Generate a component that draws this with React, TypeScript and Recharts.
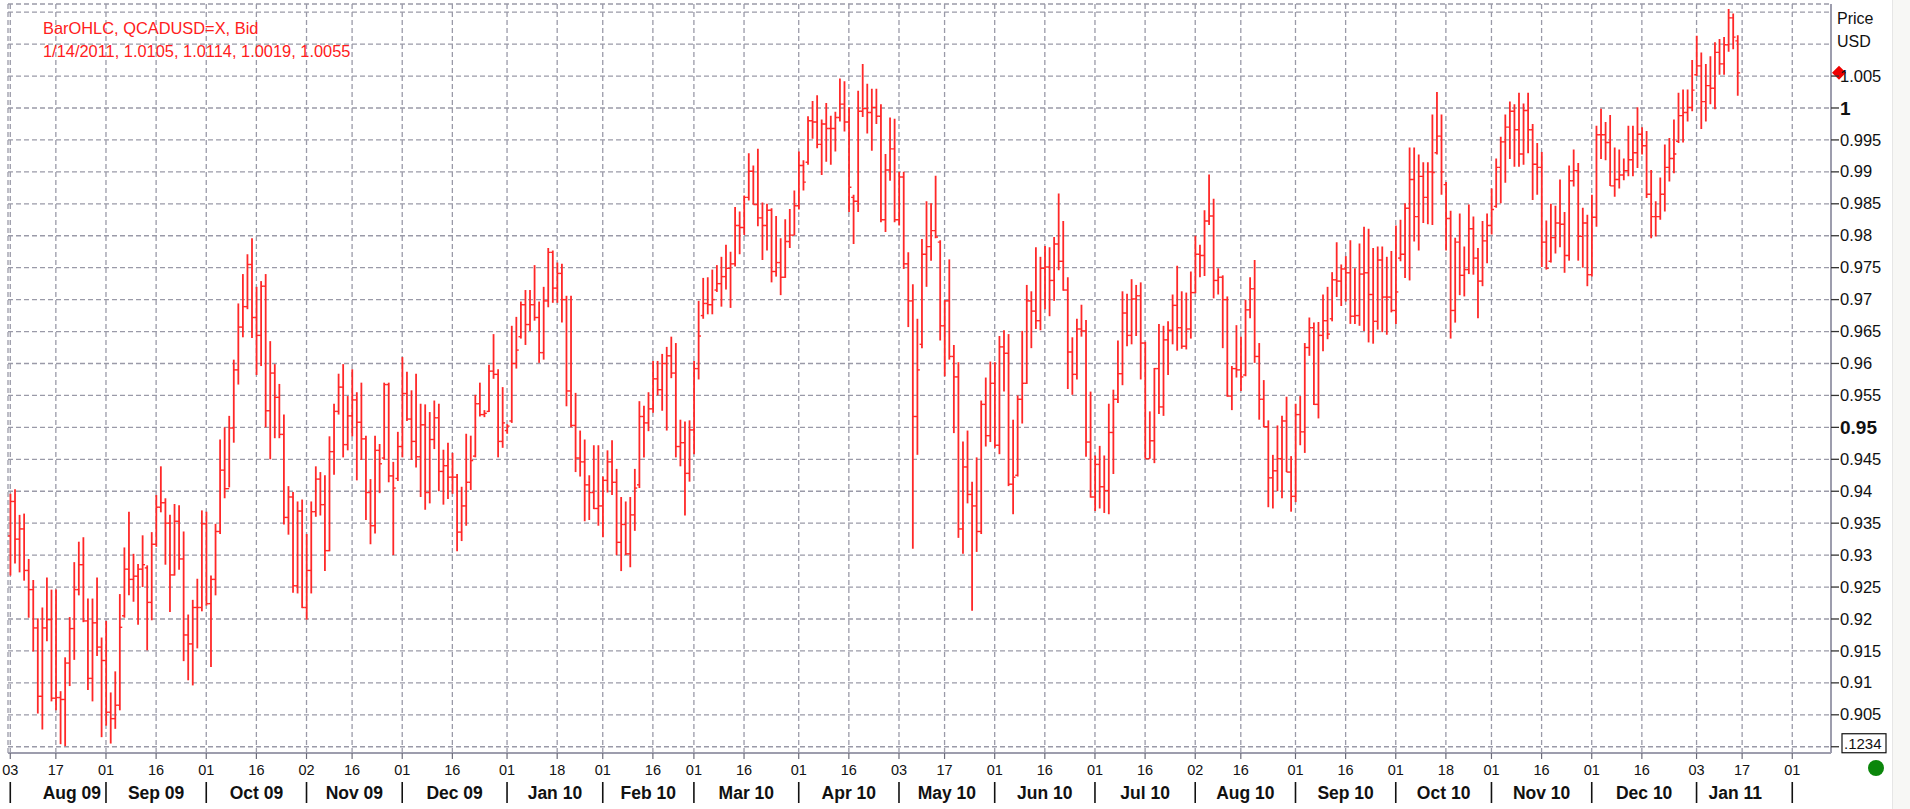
import React from "react";
import { ComposedChart, Bar, XAxis, YAxis, CartesianGrid, ReferenceDot } from "recharts";

// Daily bars, prices in 1/10000 USD (QCADUSD=X, Bid), Aug 3 2009 .. Jan 14 2011 (weekdays)
const HIGH = [
  9396, 9403, 9363, 9365, 9294, 9261, 9201, 9218, 9265, 9246,
  9246, 9087, 9140, 9203, 9289, 9321, 9328, 9232, 9232, 9265,
  9171, 9197, 9085, 9118, 9239, 9312, 9368, 9302, 9286, 9331,
  9284, 9336, 9394, 9439, 9389, 9363, 9380, 9378, 9337, 9207,
  9230, 9263, 9370, 9368, 9268, 9349, 9481, 9500, 9518, 9606,
  9694, 9740, 9771, 9796, 9720, 9729, 9740, 9635, 9599, 9568,
  9520, 9408, 9399, 9384, 9387, 9333, 9384, 9439, 9430, 9425,
  9486, 9537, 9584, 9599, 9549, 9591, 9555, 9570, 9487, 9419,
  9487, 9474, 9570, 9570, 9446, 9493, 9610, 9587, 9558, 9584,
  9537, 9536, 9524, 9542, 9537, 9465, 9476, 9460, 9427, 9407,
  9490, 9487, 9551, 9570, 9527, 9598, 9646, 9591, 9563, 9505,
  9659, 9673, 9697, 9715, 9715, 9754, 9697, 9720, 9781, 9777,
  9758, 9756, 9706, 9706, 9554, 9495, 9481, 9425, 9472, 9472,
  9423, 9464, 9480, 9435, 9391, 9384, 9391, 9435, 9541, 9534,
  9555, 9604, 9604, 9615, 9626, 9642, 9632, 9512, 9509, 9511,
  9604, 9698, 9734, 9735, 9747, 9754, 9767, 9786, 9775, 9845,
  9838, 9863, 9929, 9910, 9936, 9852, 9850, 9843, 9831, 9796,
  9826, 9842, 9871, 9932, 9918, 9987, 10011, 10020, 9982, 10008,
  9988, 9994, 10046, 10042, 10001, 9864, 10027, 10069, 10038, 10030,
  10030, 10006, 9928, 9985, 9983, 9900, 9900, 9774, 9724, 9670,
  9795, 9854, 9851, 9894, 9793, 9699, 9763, 9629, 9602, 9478,
  9495, 9415, 9453, 9542, 9578, 9603, 9602, 9643, 9652, 9646,
  9512, 9550, 9651, 9723, 9713, 9782, 9767, 9784, 9782, 9798,
  9866, 9823, 9735, 9641, 9670, 9692, 9668, 9556, 9456, 9471,
  9456, 9537, 9559, 9636, 9713, 9709, 9732, 9723, 9727, 9634,
  9525, 9593, 9662, 9659, 9666, 9708, 9753, 9713, 9711, 9744,
  9800, 9786, 9840, 9896, 9858, 9749, 9738, 9705, 9596, 9660,
  9642, 9700, 9735, 9762, 9632, 9574, 9511, 9457, 9503, 9518,
  9548, 9455, 9537, 9549, 9632, 9672, 9664, 9665, 9708, 9720,
  9743, 9790, 9755, 9768, 9793, 9749, 9788, 9814, 9811, 9781,
  9783, 9783, 9767, 9776, 9816, 9825, 9851, 9938, 9938, 9927,
  9915, 9915, 9990, 10025, 9990, 9884, 9839, 9797, 9835, 9783,
  9849, 9830, 9781, 9823, 9835, 9874, 9921, 9955, 9990, 10010,
  10006, 10024, 10007, 10024, 9975, 9945, 9931, 9824, 9850, 9847,
  9888, 9837, 9910, 9935, 9914, 9844, 9833, 9864, 9972, 9999,
  9978, 9989, 9938, 9935, 9921, 9972, 9972, 10001, 9970, 9964,
  9903, 9854, 9891, 9943, 9953, 9982, 10024, 10029, 10029, 10075,
  10113, 10087, 10069, 10081, 10103, 10108, 10111, 10155, 10148, 10114,
];
const LOW = [
  9268, 9287, 9273, 9260, 9202, 9149, 9052, 9027, 9165, 9071,
  9057, 9004, 9001, 9095, 9136, 9237, 9195, 9089, 9071, 9142,
  9015, 9033, 9005, 9028, 9057, 9202, 9237, 9227, 9191, 9250,
  9151, 9198, 9313, 9367, 9285, 9211, 9268, 9277, 9134, 9104,
  9096, 9154, 9212, 9221, 9125, 9237, 9333, 9389, 9406, 9476,
  9567, 9641, 9685, 9640, 9582, 9596, 9500, 9450, 9483, 9483,
  9348, 9332, 9241, 9240, 9217, 9199, 9240, 9360, 9362, 9275,
  9306, 9426, 9520, 9453, 9464, 9486, 9417, 9449, 9355, 9317,
  9334, 9397, 9449, 9414, 9300, 9416, 9453, 9510, 9449, 9437,
  9391, 9371, 9381, 9466, 9400, 9379, 9388, 9396, 9306, 9322,
  9346, 9402, 9453, 9517, 9516, 9524, 9576, 9453, 9468, 9490,
  9507, 9592, 9639, 9629, 9651, 9667, 9601, 9606, 9688, 9695,
  9695, 9664, 9533, 9500, 9430, 9423, 9353, 9355, 9372, 9346,
  9328, 9398, 9394, 9300, 9275, 9300, 9281, 9338, 9405, 9453,
  9494, 9523, 9550, 9526, 9495, 9577, 9453, 9439, 9362, 9415,
  9458, 9575, 9670, 9677, 9677, 9712, 9689, 9716, 9687, 9752,
  9771, 9801, 9855, 9849, 9815, 9762, 9777, 9727, 9736, 9707,
  9734, 9781, 9801, 9841, 9871, 9911, 9952, 9937, 9895, 9916,
  9911, 9932, 9979, 9963, 9837, 9787, 9837, 9986, 9960, 9933,
  9975, 9821, 9806, 9886, 9821, 9816, 9748, 9657, 9310, 9457,
  9624, 9720, 9761, 9796, 9636, 9580, 9606, 9491, 9327, 9302,
  9381, 9213, 9305, 9333, 9470, 9477, 9468, 9458, 9556, 9408,
  9364, 9423, 9506, 9568, 9624, 9654, 9652, 9685, 9674, 9698,
  9746, 9714, 9560, 9551, 9575, 9642, 9454, 9390, 9369, 9373,
  9366, 9364, 9427, 9538, 9566, 9627, 9630, 9643, 9575, 9451,
  9451, 9444, 9521, 9518, 9582, 9630, 9620, 9623, 9622, 9639,
  9710, 9735, 9737, 9817, 9702, 9708, 9624, 9548, 9527, 9578,
  9557, 9580, 9671, 9601, 9512, 9500, 9375, 9373, 9400, 9389,
  9430, 9368, 9383, 9472, 9460, 9612, 9535, 9514, 9619, 9638,
  9666, 9704, 9690, 9697, 9662, 9662, 9659, 9651, 9633, 9631,
  9653, 9649, 9645, 9680, 9662, 9760, 9734, 9730, 9791, 9777,
  9820, 9818, 9817, 9927, 9864, 9777, 9639, 9664, 9707, 9705,
  9740, 9739, 9671, 9721, 9757, 9802, 9844, 9851, 9883, 9920,
  9908, 9908, 9911, 9929, 9856, 9864, 9751, 9747, 9758, 9772,
  9782, 9742, 9761, 9877, 9761, 9750, 9721, 9736, 9814, 9920,
  9918, 9878, 9861, 9874, 9887, 9893, 9893, 9906, 9927, 9859,
  9796, 9799, 9825, 9838, 9885, 9898, 9945, 9946, 9979, 9995,
  10050, 9967, 9979, 10006, 9998, 10052, 10052, 10088, 10092, 10019,
];
const CLOSE = [
  9384, 9325, 9341, 9276, 9246, 9186, 9079, 9186, 9199, 9076,
  9077, 9074, 9131, 9185, 9246, 9285, 9197, 9107, 9194, 9156,
  9135, 9054, 9044, 9065, 9187, 9278, 9262, 9267, 9278, 9285,
  9226, 9317, 9375, 9382, 9350, 9269, 9353, 9294, 9175, 9161,
  9218, 9218, 9349, 9224, 9262, 9337, 9433, 9404, 9499, 9590,
  9657, 9689, 9755, 9672, 9644, 9721, 9526, 9585, 9547, 9489,
  9359, 9391, 9252, 9369, 9218, 9276, 9368, 9419, 9379, 9307,
  9462, 9525, 9563, 9473, 9518, 9543, 9508, 9482, 9398, 9346,
  9464, 9443, 9567, 9424, 9405, 9470, 9553, 9513, 9478, 9454,
  9504, 9398, 9481, 9515, 9431, 9440, 9422, 9422, 9336, 9377,
  9414, 9448, 9537, 9520, 9522, 9588, 9583, 9478, 9507, 9502,
  9600, 9621, 9692, 9661, 9692, 9672, 9617, 9698, 9774, 9718,
  9741, 9700, 9557, 9503, 9452, 9446, 9410, 9398, 9373, 9377,
  9417, 9446, 9414, 9320, 9348, 9302, 9363, 9405, 9517, 9507,
  9529, 9576, 9559, 9600, 9612, 9585, 9470, 9476, 9428, 9496,
  9592, 9643, 9694, 9692, 9700, 9725, 9736, 9749, 9756, 9816,
  9813, 9860, 9901, 9849, 9828, 9816, 9840, 9744, 9758, 9735,
  9791, 9801, 9847, 9910, 9884, 9980, 9978, 9943, 9975, 9968,
  9968, 9985, 10006, 9978, 9876, 9854, 9995, 9999, 9993, 10001,
  9987, 9825, 9903, 9936, 9825, 9892, 9756, 9698, 9517, 9590,
  9771, 9783, 9808, 9798, 9659, 9698, 9611, 9579, 9341, 9438,
  9395, 9377, 9337, 9536, 9487, 9569, 9472, 9626, 9616, 9411,
  9422, 9544, 9569, 9698, 9682, 9667, 9749, 9751, 9730, 9787,
  9760, 9715, 9618, 9583, 9654, 9651, 9477, 9391, 9442, 9407,
  9401, 9492, 9544, 9584, 9679, 9644, 9701, 9706, 9632, 9451,
  9479, 9592, 9532, 9637, 9652, 9691, 9656, 9627, 9654, 9711,
  9771, 9769, 9823, 9831, 9730, 9735, 9700, 9549, 9592, 9590,
  9579, 9684, 9717, 9611, 9544, 9501, 9421, 9432, 9451, 9510,
  9430, 9392, 9520, 9493, 9625, 9656, 9536, 9644, 9667, 9646,
  9731, 9729, 9748, 9742, 9674, 9675, 9740, 9742, 9708, 9666,
  9762, 9704, 9704, 9683, 9712, 9771, 9843, 9888, 9830, 9893,
  9860, 9900, 9899, 9956, 9900, 9827, 9683, 9790, 9738, 9747,
  9811, 9765, 9729, 9792, 9816, 9841, 9907, 9947, 9970, 9995,
  9966, 9928, 9996, 9966, 9912, 9907, 9790, 9749, 9797, 9820,
  9818, 9769, 9886, 9902, 9799, 9820, 9739, 9829, 9958, 9958,
  9946, 9878, 9888, 9895, 9902, 9919, 9930, 9959, 9941, 9865,
  9830, 9830, 9865, 9907, 9921, 9928, 9988, 9993, 10001, 10028,
  10066, 10010, 10035, 10031, 10087, 10069, 10099, 10141, 10111, 10055,
];
const OPEN = [
  9330, 9384, 9325, 9341, 9276, 9246, 9186, 9079, 9186, 9199,
  9076, 9077, 9074, 9131, 9185, 9246, 9285, 9197, 9107, 9194,
  9156, 9135, 9054, 9044, 9065, 9205, 9278, 9262, 9267, 9278,
  9280, 9226, 9317, 9375, 9382, 9350, 9269, 9353, 9294, 9175,
  9161, 9218, 9218, 9349, 9224, 9262, 9337, 9433, 9404, 9499,
  9590, 9657, 9689, 9755, 9672, 9644, 9721, 9526, 9585, 9547,
  9489, 9359, 9391, 9252, 9369, 9218, 9276, 9368, 9419, 9379,
  9307, 9462, 9525, 9563, 9473, 9518, 9543, 9508, 9482, 9398,
  9346, 9464, 9452, 9567, 9424, 9420, 9470, 9553, 9513, 9478,
  9454, 9504, 9398, 9481, 9515, 9431, 9440, 9422, 9422, 9336,
  9377, 9414, 9455, 9537, 9520, 9525, 9588, 9583, 9478, 9495,
  9510, 9600, 9642, 9692, 9661, 9692, 9672, 9617, 9698, 9774,
  9718, 9741, 9700, 9557, 9503, 9452, 9446, 9410, 9398, 9373,
  9377, 9417, 9446, 9414, 9320, 9348, 9302, 9363, 9410, 9517,
  9507, 9529, 9576, 9559, 9600, 9612, 9585, 9470, 9476, 9428,
  9496, 9592, 9675, 9694, 9692, 9715, 9725, 9736, 9749, 9756,
  9816, 9813, 9860, 9901, 9849, 9828, 9816, 9840, 9744, 9758,
  9735, 9791, 9801, 9847, 9910, 9915, 9980, 9978, 9943, 9975,
  9968, 9968, 9985, 10006, 9978, 9860, 9854, 9995, 9999, 9993,
  10001, 9987, 9825, 9903, 9936, 9825, 9892, 9756, 9698, 9517,
  9630, 9771, 9783, 9808, 9790, 9659, 9698, 9611, 9579, 9341,
  9438, 9395, 9377, 9337, 9536, 9487, 9569, 9472, 9626, 9616,
  9411, 9425, 9544, 9569, 9698, 9682, 9667, 9749, 9751, 9730,
  9787, 9760, 9715, 9618, 9583, 9654, 9651, 9477, 9391, 9442,
  9407, 9401, 9492, 9544, 9584, 9679, 9644, 9701, 9706, 9632,
  9451, 9479, 9592, 9532, 9637, 9652, 9691, 9656, 9627, 9654,
  9711, 9771, 9769, 9823, 9831, 9730, 9735, 9700, 9549, 9592,
  9590, 9582, 9684, 9717, 9611, 9544, 9501, 9421, 9432, 9451,
  9510, 9430, 9392, 9520, 9493, 9625, 9656, 9536, 9644, 9667,
  9670, 9731, 9729, 9748, 9742, 9674, 9675, 9740, 9742, 9708,
  9666, 9762, 9704, 9704, 9683, 9765, 9771, 9843, 9888, 9830,
  9893, 9860, 9900, 9930, 9956, 9880, 9827, 9683, 9790, 9738,
  9747, 9811, 9765, 9729, 9792, 9816, 9846, 9907, 9947, 9970,
  9995, 9966, 9928, 9996, 9966, 9912, 9907, 9790, 9760, 9797,
  9820, 9818, 9769, 9886, 9902, 9799, 9820, 9739, 9829, 9958,
  9958, 9946, 9878, 9888, 9895, 9902, 9919, 9930, 9959, 9941,
  9865, 9830, 9830, 9865, 9907, 9921, 9948, 9988, 9993, 10001,
  10052, 10066, 10010, 10035, 10031, 10087, 10069, 10099, 10141, 10105,
];

const SLOT_COUNT = 400; // weekday slots on the time axis (data + empty future slots)
const DAY_TICKS = [0, 10, 21, 32, 43, 54, 65, 75, 86, 97, 109, 120, 130, 141, 150, 161, 173, 184, 195, 205, 216, 227, 238, 249, 260, 270, 282, 293, 304, 315, 325, 336, 347, 358, 370, 380, 391];
const DAY_LABELS = ["03", "17", "01", "16", "01", "16", "02", "16", "01", "16", "01", "18", "01", "16", "01", "16", "01", "16", "03", "17", "01", "16", "01", "16", "02", "16", "01", "16", "01", "18", "01", "16", "01", "16", "03", "17", "01"];
const MONTH_STARTS = [0, 21, 43, 65, 86, 109, 130, 150, 173, 195, 216, 238, 260, 282, 304, 325, 347, 370, 391];
const MONTH_MIDS = [13.5, 32, 54, 75.5, 97.5, 119.5, 140, 161.5, 184, 205.5, 227, 249, 271, 293, 314.5, 336, 358.5, 378.5];
const MONTH_LABELS = ["Aug 09", "Sep 09", "Oct 09", "Nov 09", "Dec 09", "Jan 10", "Feb 10", "Mar 10", "Apr 10", "May 10", "Jun 10", "Jul 10", "Aug 10", "Sep 10", "Oct 10", "Nov 10", "Dec 10", "Jan 11"];
const PRICE_TICKS = [0.9, 0.905, 0.91, 0.915, 0.92, 0.925, 0.93, 0.935, 0.94, 0.945, 0.95, 0.955, 0.96, 0.965, 0.97, 0.975, 0.98, 0.985, 0.99, 0.995, 1, 1.005, 1.01, 1.015];
const PRICE_DOMAIN = [0.89902, 1.01628];

const FONT = '"Liberation Sans", Arial, Helvetica, sans-serif';
const RED = "#ff2828";
const GRID = "#9a9aa8";
const BORDER = "#9d9dad";

const rows = Array.from({ length: SLOT_COUNT }, (_, i) =>
  i < HIGH.length
    ? { slot: i, o: OPEN[i] / 10000, h: HIGH[i] / 10000, l: LOW[i] / 10000, c: CLOSE[i] / 10000, range: [LOW[i] / 10000, HIGH[i] / 10000] }
    : { slot: i, range: null }
);
const last = HIGH.length - 1;
const lastClose = CLOSE[last] / 10000;

const OhlcShape = (props: any) => {
  const { x, y, width, height, payload } = props;
  if (!payload || payload.h == null || x == null || y == null) return null;
  const cx = x + width / 2;
  const top = Math.min(y, y + height);
  const span = Math.abs(height);
  const at = (v: number) => (payload.h === payload.l ? top : top + ((payload.h - v) / (payload.h - payload.l)) * span);
  const yo = at(payload.o);
  const yc = at(payload.c);
  return (
    <g>
      <line x1={cx} x2={cx} y1={top} y2={top + Math.max(span, 1)} stroke={RED} strokeWidth={1.8} />
      <line x1={cx - 2.4} x2={cx} y1={yo} y2={yo} stroke={RED} strokeWidth={1.4} />
      <line x1={cx} x2={cx + 2.4} y1={yc} y2={yc} stroke={RED} strokeWidth={1.4} />
    </g>
  );
};

const DayTick = (props: any) => {
  const { x, y, payload } = props;
  const k = DAY_TICKS.indexOf(payload.value);
  if (k < 0) return null;
  return (
    <g>
      <line x1={x} x2={x} y1={y} y2={y + 6} stroke="#6c6c7a" strokeWidth={1.2} />
      <text x={x} y={y + 22} textAnchor="middle" fontSize={14.5} fill="#111" fontFamily={FONT}>
        {DAY_LABELS[k]}
      </text>
    </g>
  );
};

const MonthTick = (props: any) => {
  const { x, y, payload } = props;
  if (MONTH_STARTS.indexOf(payload.value) >= 0) {
    return <line x1={x} x2={x} y1={y + 5} y2={y + 26} stroke="#111" strokeWidth={1.6} />;
  }
  const m = MONTH_MIDS.indexOf(payload.value);
  if (m < 0) return null;
  return (
    <text x={x} y={y + 22} textAnchor="middle" fontSize={17.5} fontWeight="bold" fill="#111" fontFamily={FONT}>
      {MONTH_LABELS[m]}
    </text>
  );
};

const PriceTick = (props: any) => {
  const { x, y, payload } = props;
  const v = payload.value;
  if (v === 1.015) {
    return (
      <text x={x + 6} y={y + 12} fontSize={16} fill="#111" fontFamily={FONT}>
        Price
      </text>
    );
  }
  if (v === 1.01) {
    return (
      <text x={x + 6} y={y + 3} fontSize={16} fill="#111" fontFamily={FONT}>
        USD
      </text>
    );
  }
  const mark = <line x1={x} x2={x + 8} y1={y} y2={y} stroke="#333" strokeWidth={1.3} />;
  if (v === 0.9) {
    return (
      <g>
        {mark}
        <rect x={x + 11} y={y - 13} width={44} height={19} fill="#fff" stroke="#111" strokeWidth={1.2} />
        <text x={x + 13} y={y + 2} fontSize={15} fill="#111" fontFamily={FONT}>
          .1234
        </text>
      </g>
    );
  }
  const bold = v === 1 || v === 0.95;
  return (
    <g>
      {mark}
      <text x={x + 9} y={y} dy={bold ? 7 : 5.6} fontSize={bold ? 19 : 16.5} fontWeight={bold ? "bold" : "normal"} fill="#111" fontFamily={FONT}>
        {String(v)}
      </text>
    </g>
  );
};

const Diamond = (props: any) => {
  const { cx, cy } = props;
  if (cx == null || cy == null) return null;
  const c = cx + 8;
  return <polygon points={`${c - 7},${cy} ${c},${cy - 7} ${c + 7},${cy} ${c},${cy + 7}`} fill="#ee0000" />;
};

export default function App() {
  return (
    <div style={{ position: "absolute", left: 0, top: 0, width: 1910, height: 809, background: "#ffffff", fontFamily: FONT }}>
      <ComposedChart width={1910} height={809} data={rows} margin={{ top: 4, right: 9, bottom: 0, left: 8 }}>
        <CartesianGrid stroke={GRID} strokeDasharray="5 3" strokeWidth={1.3} />
        <XAxis
          dataKey="slot"
          type="category"
          ticks={DAY_TICKS}
          interval={0}
          tick={<DayTick />}
          tickLine={false}
          tickSize={0}
          tickMargin={0}
          axisLine={{ stroke: BORDER, strokeWidth: 2 }}
          height={24}
        />
        <XAxis
          xAxisId="m"
          dataKey="slot"
          type="number"
          domain={[-0.5, SLOT_COUNT - 0.5]}
          allowDataOverflow
          ticks={[...MONTH_STARTS, ...MONTH_MIDS]}
          interval={0}
          tick={<MonthTick />}
          tickLine={false}
          tickSize={0}
          tickMargin={0}
          axisLine={false}
          height={32}
        />
        <XAxis
          xAxisId="top"
          orientation="top"
          dataKey="slot"
          type="number"
          domain={[-0.5, SLOT_COUNT - 0.5]}
          allowDataOverflow
          tick={false}
          tickLine={false}
          axisLine={{ stroke: BORDER, strokeWidth: 2 }}
          height={0}
        />
        <YAxis
          orientation="right"
          domain={PRICE_DOMAIN}
          allowDataOverflow
          ticks={PRICE_TICKS}
          interval={0}
          tick={<PriceTick />}
          tickLine={false}
          tickSize={0}
          tickMargin={0}
          axisLine={{ stroke: BORDER, strokeWidth: 2 }}
          width={70}
        />
        <YAxis
          yAxisId="left"
          orientation="left"
          domain={PRICE_DOMAIN}
          allowDataOverflow
          tick={false}
          tickLine={false}
          axisLine={{ stroke: BORDER, strokeWidth: 2 }}
          width={0}
        />
        <Bar dataKey="range" isAnimationActive={false} shape={<OhlcShape />} />
        <ReferenceDot xAxisId="m" x={SLOT_COUNT - 0.5} y={lastClose} ifOverflow="visible" shape={<Diamond />} />
      </ComposedChart>
      <div
        style={{
          position: "absolute",
          left: 43,
          top: 17,
          color: "#ff2020",
          fontSize: 16.4,
          lineHeight: "23px",
          fontFamily: FONT,
          pointerEvents: "none",
          whiteSpace: "pre",
        }}
      >
        <div>BarOHLC, QCADUSD=X, Bid</div>
        <div>{`1/14/2011, ${(OPEN[last] / 10000).toFixed(4)}, ${(HIGH[last] / 10000).toFixed(4)}, ${(LOW[last] / 10000).toFixed(4)}, ${(CLOSE[last] / 10000).toFixed(4)}`}</div>
      </div>
      <div style={{ position: "absolute", left: 1868, top: 760, width: 16, height: 16, borderRadius: 8, background: "#0b860b" }} />
      <div style={{ position: "absolute", left: 1892, top: 0, width: 18, height: 809, background: "#f7f7f5", borderLeft: "1px solid #e6e6e6" }} />
    </div>
  );
}
